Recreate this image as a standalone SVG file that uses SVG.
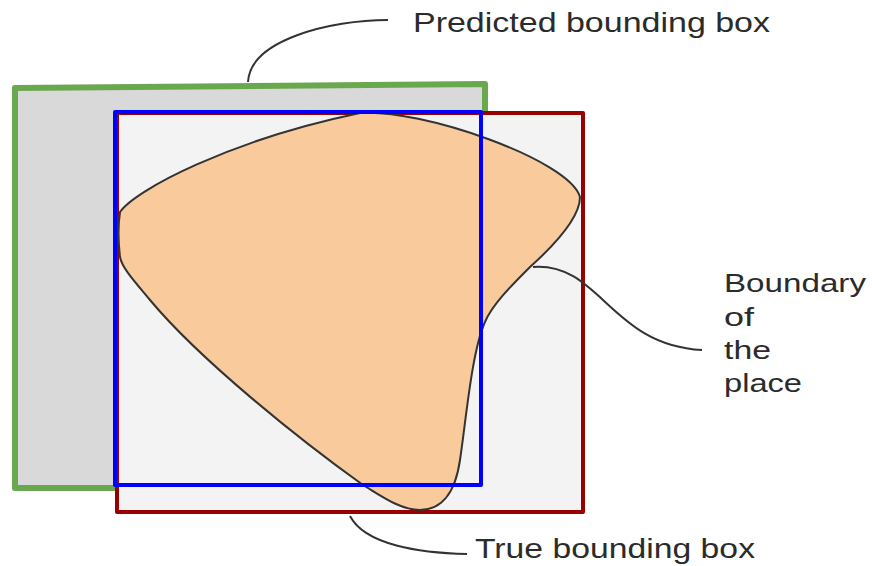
<svg xmlns="http://www.w3.org/2000/svg" width="872" height="566" viewBox="0 0 872 566">
  <style>
    .lbl { font-family: "Liberation Sans", Arial, sans-serif; font-size: 28px; fill: #2b2b2b; }
    .lbl2 { font-family: "Liberation Sans", Arial, sans-serif; font-size: 26px; fill: #2b2b2b; }
    .conn { fill: none; stroke: #333333; stroke-width: 2; }
  </style>
  <rect width="872" height="566" fill="#ffffff"/>
  <g id="predicted-box">
    <path d="M15,88 L485,84 L485,488 L15,488 Z" fill="#d9d9d9" stroke="#6aa84f" stroke-width="6" stroke-linejoin="round"/>
  </g>
  <g id="true-box">
    <rect x="117" y="113" width="466" height="399" fill="#f3f3f3" stroke="#990000" stroke-width="4" stroke-linejoin="round"/>
  </g>
  <g id="place">
    <path d="M120,212 C135,190 230,140 360,113 C420,108 570,160 580,197 C580,215 560,240 530,267 C510,287 492,305 485,322 C472,350 466,420 460,460 C455,495 440,510 420,510 C400,510 380,495 363,485 C300,440 200,360 150,300 C135,282 122,268 120,257 C118,240 118,225 120,212 Z" fill="#f9cb9c" stroke="#333333" stroke-width="2"/>
  </g>
  <g id="blue-box">
    <rect x="115" y="112" width="366" height="373" fill="none" stroke="#0000ff" stroke-width="4" stroke-linejoin="round"/>
  </g>
  <g id="connectors">
    <path class="conn" d="M248,82 C250,40 330,20 388,20"/>
    <path class="conn" d="M533,267 C600,262 610,345 702,350"/>
    <path class="conn" d="M350,516 C365,545 420,553 467,554"/>
  </g>
  <g id="label-predicted">
    <text class="lbl" x="413" y="32" textLength="357" lengthAdjust="spacingAndGlyphs">Predicted bounding box</text>
  </g>
  <g id="label-true">
    <text class="lbl" x="475" y="558" textLength="280" lengthAdjust="spacingAndGlyphs">True bounding box</text>
  </g>
  <g id="label-boundary">
    <text class="lbl2" x="724" y="292" textLength="142" lengthAdjust="spacingAndGlyphs">Boundary</text>
    <text class="lbl2" x="724" y="326" textLength="30" lengthAdjust="spacingAndGlyphs">of</text>
    <text class="lbl2" x="724" y="359" textLength="47" lengthAdjust="spacingAndGlyphs">the</text>
    <text class="lbl2" x="724" y="392" textLength="78" lengthAdjust="spacingAndGlyphs">place</text>
  </g>
</svg>
